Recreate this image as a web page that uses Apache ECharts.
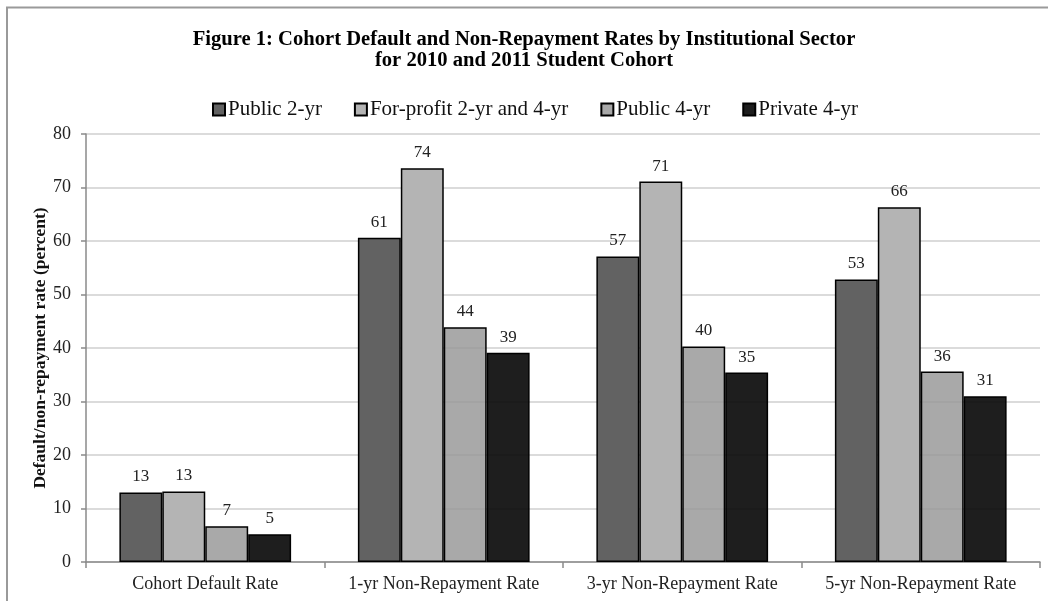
<!DOCTYPE html>
<html>
<head>
<meta charset="utf-8">
<title>Cohort Default and Non-Repayment Rates</title>
<script src="https://cdn.jsdelivr.net/npm/echarts@6/dist/echarts.min.js"></script>
<style>
  html, body { margin: 0; padding: 0; background: #fff; }
  #chart { width: 1048px; height: 601px; }
</style>
</head>
<body>
<div id="chart"></div>
<script>
// Rate categories along the x axis
const categories = ['Cohort Default Rate', '1-yr Non-Repayment Rate', '3-yr Non-Repayment Rate', '5-yr Non-Repayment Rate'];

// Sector series (percent)
const public2yr   = [13.0, 60.6, 57.1, 52.8];
const forProfit   = [13.2, 73.6, 71.1, 66.3];
const public4yr   = [6.7, 43.9, 40.3, 35.6];
const private4yr  = [5.2, 39.1, 35.4, 31.0];

const seriesNames = ['Public 2-yr', 'For-profit 2-yr and 4-yr', 'Public 4-yr', 'Private 4-yr'];

// Y axis ticks
const yTicks = [0, 10, 20, 30, 40, 50, 60, 70, 80];

const titleLines = [
  'Figure 1: Cohort Default and Non-Repayment Rates by Institutional Sector',
  'for 2010 and 2011 Student Cohort'
];

const FONT = '"Liberation Serif", "Times New Roman", serif';

function barSeries(name, data, color) {
  return {
    name: name,
    type: 'bar',
    data: data,
    barGap: '0%',
    barCategoryGap: '28%',
    itemStyle: { color: color, borderColor: '#000', borderWidth: 1.5 },
    label: {
      show: true,
      position: 'top',
      distance: 7,
      fontFamily: FONT,
      fontSize: 17,
      color: '#222',
      formatter: p => String(Math.round(p.value))
    }
  };
}

const titleStyle = { fontFamily: FONT, fontSize: 20.6, fontWeight: 'bold', color: '#000' };

const chart = echarts.init(document.getElementById('chart'), null, { renderer: 'canvas' });
chart.setOption({
  animation: false,
  backgroundColor: '#fff',
  title: [
    { text: titleLines[0], left: 'center', top: 24, textStyle: titleStyle },
    { text: titleLines[1], left: 'center', top: 45, textStyle: titleStyle }
  ],
  legend: {
    data: seriesNames,
    top: 94,
    left: 207,
    itemWidth: 12,
    itemHeight: 12,
    itemGap: 32,
    icon: 'rect',
    textStyle: { fontFamily: FONT, fontSize: 21, color: '#111', padding: [0, 0, 0, -2] }
  },
  grid: { left: 86, right: 8, top: 134, bottom: 39, containLabel: false },
  xAxis: {
    type: 'category',
    data: categories,
    axisLine: { lineStyle: { color: '#8a8a8a', width: 1.5 } },
    axisTick: { show: true, interval: 0, length: 6, lineStyle: { color: '#8a8a8a', width: 1.5 } },
    axisLabel: { interval: 0, fontFamily: FONT, fontSize: 18, color: '#222', margin: 13 }
  },
  yAxis: {
    type: 'value',
    min: yTicks[0],
    max: yTicks[yTicks.length - 1],
    interval: yTicks[1] - yTicks[0],
    name: 'Default/non-repayment rate (percent)',
    nameLocation: 'middle',
    nameGap: 37,
    nameMoveOverlap: false,
    nameTextStyle: { fontFamily: FONT, fontSize: 17.5, fontWeight: 'bold', color: '#111' },
    axisLine: { show: true, lineStyle: { color: '#8a8a8a', width: 1.5 } },
    axisTick: { show: true, length: 5, lineStyle: { color: '#8a8a8a', width: 1.5 } },
    axisLabel: { fontFamily: FONT, fontSize: 18, color: '#222', margin: 15 },
    splitLine: { lineStyle: { color: '#cfcfcf', width: 1.5 } }
  },
  graphic: [
    { type: 'line', shape: { x1: 6, y1: 7.5, x2: 1048, y2: 7.5 }, style: { stroke: '#9a9a9a', lineWidth: 2 }, silent: true },
    { type: 'line', shape: { x1: 7, y1: 7, x2: 7, y2: 601 }, style: { stroke: '#9a9a9a', lineWidth: 2 }, silent: true }
  ],
  series: [
    barSeries(seriesNames[0], public2yr, '#626262'),
    barSeries(seriesNames[1], forProfit, '#b4b4b4'),
    barSeries(seriesNames[2], public4yr, 'rgba(150,150,150,0.82)'),
    barSeries(seriesNames[3], private4yr, 'rgba(6,6,6,0.9)')
  ]
});
</script>
</body>
</html>
